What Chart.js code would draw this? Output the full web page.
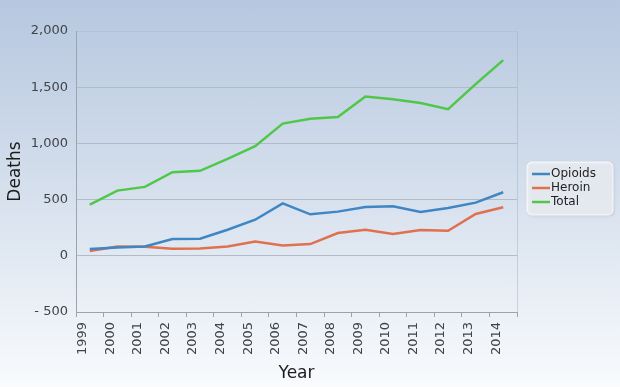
<!DOCTYPE html>
<html>
<head>
<meta charset="utf-8">
<script src="https://cdn.jsdelivr.net/npm/chart.js@4"></script>
<style>
  html, body { margin: 0; padding: 0; }
  #wrap {
    position: relative;
    width: 620px;
    height: 387px;
    background: linear-gradient(to bottom, #b6c7df 0%, #d6e0ed 50%, #f9fbfd 100%);
  }
</style>
</head>
<body>
<div id="wrap"><canvas id="deathsChart"></canvas></div>
<script>
// ---- data ----
const years = ['1999', '2000', '2001', '2002', '2003', '2004', '2005', '2006',
               '2007', '2008', '2009', '2010', '2011', '2012', '2013', '2014'];
const opioids = [60, 74, 83, 149, 152, 232, 321, 467, 369, 393, 435, 440, 390, 426, 473, 565];
const heroin = [42, 83, 80, 62, 65, 83, 128, 92, 104, 202, 232, 193, 229, 223, 372, 432];
const total = [455, 580, 613, 744, 756, 863, 976, 1176, 1220, 1235, 1417, 1393, 1360, 1304, 1527, 1741];
const yMin = -500;
const yMax = 2000;
const yStep = 500;

Chart.defaults.font.family = "'DejaVu Sans', Verdana, sans-serif";

// rounded legend box on the right + faint right border of the plot
const boxLegend = {
  id: 'boxLegend',
  afterDatasetsDraw(chart) {
    const { ctx, chartArea } = chart;
    ctx.save();
    ctx.strokeStyle = 'rgba(160,172,188,0.45)';
    ctx.lineWidth = 1;
    ctx.beginPath();
    ctx.moveTo(chartArea.right + 0.5, chartArea.top);
    ctx.lineTo(chartArea.right + 0.5, chartArea.bottom);
    ctx.stroke();

    const x = 527, y = 162, w = 86, h = 53;
    ctx.shadowColor = 'rgba(90,100,120,0.35)';
    ctx.shadowBlur = 3;
    ctx.shadowOffsetX = 1;
    ctx.shadowOffsetY = 1;
    ctx.fillStyle = 'rgba(255,255,255,0.6)';
    ctx.beginPath();
    ctx.roundRect(x, y, w, h, 5);
    ctx.fill();
    ctx.shadowColor = 'transparent';
    ctx.strokeStyle = 'rgba(255,255,255,0.8)';
    ctx.stroke();

    ctx.font = "12px 'DejaVu Sans', Verdana, sans-serif";
    ctx.textBaseline = 'middle';
    ctx.textAlign = 'left';
    chart.data.datasets.forEach((ds, i) => {
      const cy = 174 + i * 14;
      ctx.strokeStyle = ds.borderColor;
      ctx.lineWidth = 2.5;
      ctx.beginPath();
      ctx.moveTo(532, cy);
      ctx.lineTo(550, cy);
      ctx.stroke();
      ctx.fillStyle = '#222';
      ctx.fillText(ds.label, 551, cy);
    });
    ctx.restore();
  }
};

new Chart(document.getElementById('deathsChart'), {
  type: 'line',
  data: {
    labels: years,
    datasets: [
      { label: 'Opioids', data: opioids, borderColor: '#3f86c4', backgroundColor: '#3f86c4' },
      { label: 'Heroin', data: heroin, borderColor: '#df7150', backgroundColor: '#df7150' },
      { label: 'Total', data: total, borderColor: '#4fc849', backgroundColor: '#4fc849' },
    ],
  },
  options: {
    responsive: true,
    maintainAspectRatio: false,
    animation: false,
    layout: { padding: { top: 31, right: 103, left: 0, bottom: 0 } },
    elements: {
      line: { borderWidth: 2.5, tension: 0 },
      point: { radius: 0 },
    },
    plugins: {
      legend: { display: false },
      tooltip: { enabled: false },
    },
    scales: {
      x: {
        offset: true,
        afterFit: s => { s.height = 75; },
        grid: { offset: true, drawOnChartArea: false, drawTicks: true, tickLength: 5, color: '#9aa3ae' },
        border: { color: '#9aa3ae' },
        ticks: {
          minRotation: 90, maxRotation: 90, autoSkip: false,
          labelOffset: -7, padding: 5,
          color: '#404448', font: { size: 13 },
        },
        title: {
          display: true, text: 'Year', color: '#1c1c1c',
          font: { size: 17 }, padding: { top: 0, bottom: 3 },
        },
      },
      y: {
        min: yMin,
        max: yMax,
        afterFit: s => { s.width = 76; },
        grid: {
          drawTicks: false,
          color: c => c.tick && c.tick.value === yMax ? 'rgba(170,180,195,0.35)' : '#b2bbc7',
        },
        border: { color: '#9aa3ae' },
        ticks: {
          stepSize: yStep,
          padding: 8,
          color: '#404448',
          font: { size: 13 },
          callback: v => v < 0 ? '- ' + Math.abs(v) : v.toLocaleString('en-US'),
        },
        title: {
          display: true, text: 'Deaths', color: '#1c1c1c',
          font: { size: 17 }, padding: { top: 5, bottom: 0 },
        },
      },
    },
  },
  plugins: [boxLegend],
});
</script>
</body>
</html>
